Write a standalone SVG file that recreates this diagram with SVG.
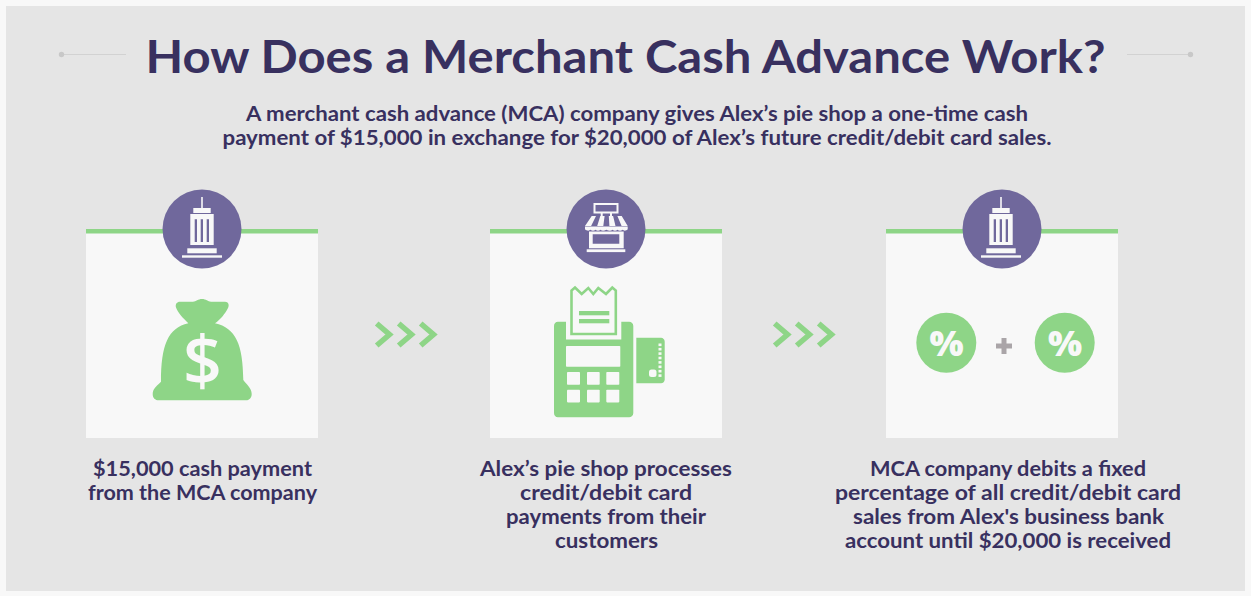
<svg xmlns="http://www.w3.org/2000/svg" xmlns:xlink="http://www.w3.org/1999/xlink" width="1251" height="596" viewBox="0 0 1251 596">
<style>
text{font-family:"Lato","Open Sans","Liberation Sans",sans-serif;font-weight:700;fill:#38305f;text-anchor:middle}
.cap,.sub{font-size:20.5px}
.title{font-size:46px}
.card{fill:#f8f8f8}
.bar{fill:#8ed587}
.disc{fill:#70689c}
.g{fill:#8ed587}
.w{fill:#f8f8f8}
.chev{fill:none;stroke:#8ed587;stroke-width:5.5}
.rule{stroke:#d2d2d2;stroke-width:1}
.dot{fill:#c8c8c8}
.pct{font-family:"Open Sans","Liberation Sans",sans-serif;font-size:36px;font-weight:800;fill:#f8f8f8}
</style>
<defs>
<g id="tower">
<rect x="-0.8" y="-32" width="1.6" height="12" class="w"/>
<rect x="-8.7" y="-21" width="17.4" height="5" class="w"/>
<path class="w" fill-rule="evenodd" d="M-11.7-15H11.7V16H-11.7ZM-7.3-9.7V13H-5V-9.7ZM-1.3-9.7V13H1V-9.7ZM4.7-9.7V13H7V-9.7Z"/>
<rect x="-14.7" y="19.3" width="29.4" height="5" class="w"/>
<rect x="-20" y="26.3" width="40" height="2.4" class="w"/>
</g>
<g id="chevrons">
<path class="chev" d="M376.7 323.5L389.5 334.5L376.7 345.5M398.7 323.5L411.5 334.5L398.7 345.5M420.7 323.5L433.5 334.5L420.7 345.5"/>
</g>
</defs>
<rect width="1251" height="596" fill="#f8f8f8"/>
<rect x="6" y="6" width="1239" height="585" fill="#e5e5e5"/>

<g id="header">
<line class="rule" x1="61" y1="54.5" x2="126" y2="54.5"/>
<circle class="dot" cx="61.5" cy="54.5" r="2.7"/>
<line class="rule" x1="1127" y1="54.5" x2="1190" y2="54.5"/>
<circle class="dot" cx="1190.5" cy="54.5" r="2.7"/>
<text class="title" x="625.5" y="72.5" textLength="960" lengthAdjust="spacingAndGlyphs">How Does a Merchant Cash Advance Work?</text>
<text class="sub" x="637" y="120.5" textLength="782" lengthAdjust="spacingAndGlyphs">A merchant cash advance (MCA) company gives Alex’s pie shop a one-time cash</text>
<text class="sub" x="637" y="145" textLength="829" lengthAdjust="spacingAndGlyphs">payment of $15,000 in exchange for $20,000 of Alex’s future credit/debit card sales.</text>
</g>

<g id="connectors">
<use xlink:href="#chevrons" href="#chevrons"/>
<use xlink:href="#chevrons" href="#chevrons" transform="translate(398 0)"/>
</g>

<g id="node-cash">
<rect class="card" x="86" y="229" width="232" height="209"/>
<rect class="bar" x="86" y="229" width="232" height="4.5"/>
<circle class="disc" cx="202" cy="229" r="39.5"/>
<use xlink:href="#tower" href="#tower" transform="translate(202 229)"/>
<path class="g" d="M180 301.7H193C196 301.7 198 299 202 299S208 301.7 211 301.7H225C228.5 301.7 229.5 305 228 308C225 314 220 320 215 323.3C236 328 243 345 243.3 380C246 384 251.7 388 251.7 394C251.7 398 249 400.3 246 400.3H159C155 400.3 152.7 398 152.7 394C152.7 388 158 385 161 381.7C161 345 168 328 188.3 323.3C183 318 178 313 176 307.5C175 304 177 301.7 180 301.7Z"/>
<text x="202.5" y="384.5" style="font-family:'Open Sans','Liberation Sans',sans-serif;font-size:68px;font-weight:600;fill:#f8f8f8">$</text>
<text class="cap" x="202.5" y="475.5" textLength="219" lengthAdjust="spacingAndGlyphs">$15,000 cash payment</text>
<text class="cap" x="202.5" y="499.5" textLength="229" lengthAdjust="spacingAndGlyphs">from the MCA company</text>
</g>

<g id="node-shop">
<rect class="card" x="490" y="229" width="232" height="209"/>
<rect class="bar" x="490" y="229" width="232" height="4.5"/>
<circle class="disc" cx="606" cy="229" r="39.5"/>
<rect x="594.5" y="204" width="23" height="8.5" fill="none" stroke="#f8f8f8" stroke-width="2"/>
<path class="w" d="M600.7 212h2v4h-2ZM610 212h2v4h-2Z"/>
<path class="w" d="M591.7 216H596L591.1 226H585ZM600.3 216H604.6L603.3 226H597.2ZM608.8 216H613.1L615.5 226H609.4ZM617.4 216H621.7L627.7 226H621.6Z"/>
<path class="w" d="M585 226.5H627.7V229.2C626 231 624 231 622.5 229.8C621 231 619 231 617.5 229.8C616 231 614 231 612.5 229.8C611 231 609 231 606.3 229.8C604 231 602 231 600.5 229.8C599 231 597 231 595.5 229.8C594 231 592 231 590.5 229.8C589 231 587 231 585 229.2Z"/>
<path class="w" fill-rule="evenodd" d="M589 231.5H623.7V248.3H589ZM592.7 234.3V243.7H619.3V234.3Z"/>
<rect class="w" x="586.7" y="249.3" width="38.6" height="2.8"/>
<path class="g" d="M558 321.7H566V339.5H621.3V321.7H629C631.5 321.7 633.3 323.5 633.3 326V413C633.3 415.5 631.5 417.3 629 417.3H558C555.5 417.3 554 415.5 554 413V326C554 323.5 555.5 321.7 558 321.7Z"/>
<path fill="#f8f8f8" stroke="#8ed587" stroke-width="2.6" d="M571.5 334V290.5L575 287.5L581.7 294L588.3 288L593.3 294L598.3 288L606 294L612.3 287.5L615.8 290.5V334Z"/>
<rect class="g" x="579" y="311" width="30.3" height="4.3"/>
<rect class="g" x="579" y="319" width="30.3" height="4.3"/>
<rect class="w" x="566" y="346" width="54.3" height="20.7" rx="0.8"/>
<g class="w">
<rect x="567" y="372" width="13" height="12.7" rx="0.8"/><rect x="587" y="372" width="12.7" height="12.7" rx="0.8"/><rect x="606.3" y="372" width="13" height="12.7" rx="0.8"/>
<rect x="567" y="389.7" width="13" height="12.7" rx="0.8"/><rect x="587" y="389.7" width="12.7" height="12.7" rx="0.8"/><rect x="606.3" y="389.7" width="13" height="12.7" rx="0.8"/>
</g>
<path class="g" d="M636.3 337.7H661C663 337.7 664.7 339.5 664.7 341.5V379.5C664.7 381.5 663 383.3 661 383.3H636.3Z"/>
<g class="w">
<rect x="658.5" y="343.5" width="3" height="2.6"/><rect x="658.5" y="347.9" width="3" height="2.6"/><rect x="658.5" y="352.3" width="3" height="2.6"/><rect x="658.5" y="356.7" width="3" height="2.6"/><rect x="658.5" y="361.1" width="3" height="2.6"/><rect x="658.5" y="365.5" width="3" height="2.6"/><rect x="658.5" y="369.9" width="3" height="2.6"/><rect x="658.5" y="374.3" width="3" height="2.6"/>
<rect x="649" y="369.5" width="7.5" height="7.5" rx="2.5"/>
</g>
<text class="cap" x="606" y="475.5" textLength="252" lengthAdjust="spacingAndGlyphs">Alex’s pie shop processes</text>
<text class="cap" x="606" y="499.5" textLength="172" lengthAdjust="spacingAndGlyphs">credit/debit card</text>
<text class="cap" x="606" y="523.5" textLength="200" lengthAdjust="spacingAndGlyphs">payments from their</text>
<text class="cap" x="606.5" y="547.5" textLength="103" lengthAdjust="spacingAndGlyphs">customers</text>
</g>

<g id="node-debit">
<rect class="card" x="886" y="229" width="232" height="209"/>
<rect class="bar" x="886" y="229" width="232" height="4.5"/>
<circle class="disc" cx="1002" cy="229" r="39.5"/>
<use xlink:href="#tower" href="#tower" transform="translate(1001 229)"/>
<circle class="g" cx="946.3" cy="342.7" r="30"/>
<circle class="g" cx="1064.7" cy="342.7" r="30"/>
<text class="pct" x="946.5" y="355.7">%</text>
<text class="pct" x="1065" y="355.7">%</text>
<path fill="#aaa5a8" d="M1001.5 338H1006.5V343.5H1012V348.5H1006.5V354H1001.5V348.5H996V343.5H1001.5Z"/>
<text class="cap" x="1008" y="475.5" textLength="276" lengthAdjust="spacingAndGlyphs">MCA company debits a fixed</text>
<text class="cap" x="1008" y="499.5" textLength="346" lengthAdjust="spacingAndGlyphs">percentage of all credit/debit card</text>
<text class="cap" x="1008.5" y="523.5" textLength="311" lengthAdjust="spacingAndGlyphs">sales from Alex's business bank</text>
<text class="cap" x="1008" y="547.5" textLength="326" lengthAdjust="spacingAndGlyphs">account until $20,000 is received</text>
</g>
</svg>
